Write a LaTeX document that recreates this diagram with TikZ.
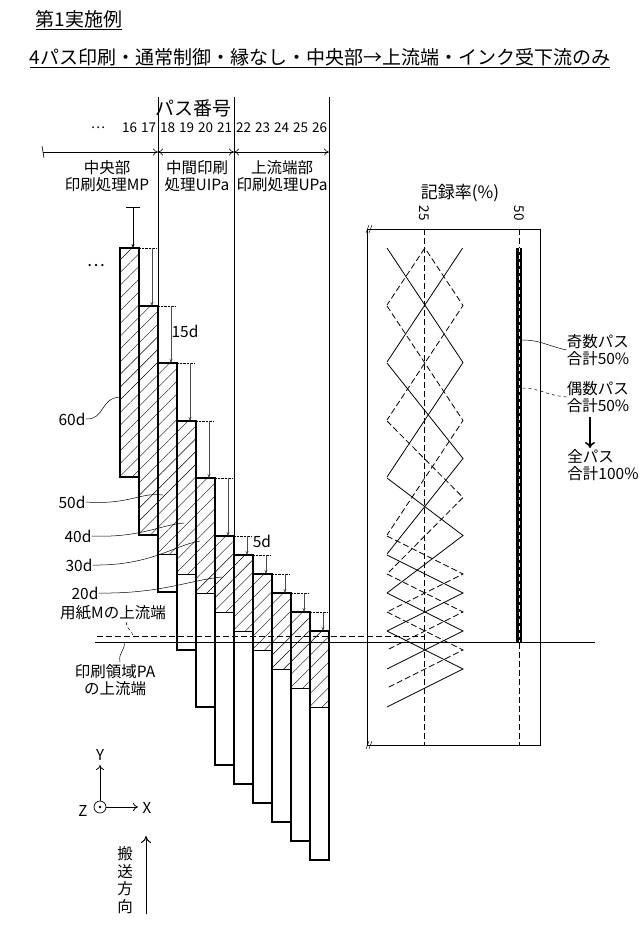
\documentclass[tikz,border=0pt]{standalone}
\usepackage{fontspec}
\setmainfont{Noto Sans CJK JP}
\usetikzlibrary{patterns.meta,arrows.meta}
\begin{document}
\begin{tikzpicture}[x=1pt,y=-1pt,
  txt/.style={inner sep=0pt,align=center,font=\fontsize{15.5}{17.5}\selectfont},
  num/.style={inner sep=0pt,font=\fontsize{13.5}{14}\selectfont},
  passrect/.style={line width=1.4pt},
  hatch/.style={pattern={Lines[angle=45,distance=9pt,line width=0.4pt]}},
  steparrow/.style={line width=0.4pt,-{Stealth[length=4pt,width=3pt]}},
  leader/.style={line width=0.5pt},
  tent/.style={line width=0.8pt}]
\useasboundingbox (0,0) rectangle (640,940);
% titles
\node[inner sep=0pt,font=\fontsize{19}{21}\selectfont] (t1) at (79,20) {\underline{第1実施例}};
\node[inner sep=0pt,font=\fontsize{19}{21}\selectfont] (t2) at (320,58) {\underline{4パス印刷・通常制御・縁なし・中央部→上流端・インク受下流のみ}};
% header
\node[inner sep=0pt,font=\fontsize{19}{20}\selectfont] (ph) at (193,108) {パス番号};
\node[num] (dots) at (98,128) {…};
\foreach \k in {16,...,26}{
  \node[num] (n\k) at ({129.5+19*(\k-16)},128) {\k};
}
\foreach \xx/\yb in {158/363,234/536,329/631}{
  \draw[line width=0.6pt] (\xx,97) -- (\xx,\yb);
}
\coordinate (aL) at (43,152);
\coordinate (a1) at (158,152);
\coordinate (a2) at (234,152);
\coordinate (a3) at (329,152);
\draw[line width=0.6pt] (42,146) -- (44,158);
\draw[line width=0.6pt,-{To[length=5pt,width=7pt]}] (aL) -- (a1);
\draw[line width=0.6pt,{To[length=5pt,width=7pt]}-{To[length=5pt,width=7pt]}] (a1) -- (a2);
\draw[line width=0.6pt,{To[length=5pt,width=7pt]}-{To[length=5pt,width=7pt]}] (a2) -- (a3);
\node[txt] (mp) at (107,176) {中央部\\印刷処理MP};
\node[txt] (uipa) at (197,176) {中間印刷\\処理UIPa};
\node[txt] (upa) at (282,176) {上流端部\\印刷処理UPa};
\node[num,font=\fontsize{17}{17}\selectfont] (dd) at (96,266) {…};
% passes
\foreach \k/\t/\h in {16/248/229,17/306/229,18/363/191,19/421/153,20/478/115,21/536/76,22/555/76,23/574/76,24/593/76,25/612/76,26/631/76}{
  \pgfmathsetmacro\xl{120+19*(\k-16)}
  \pgfmathsetmacro\xr{\xl+19}
  \pgfmathsetmacro\yh{\t+\h}
  \pgfmathsetmacro\yb{\t+229}
  \path[hatch] (\xl,\t) rectangle (\xr,\yh);
  \draw[line width=0.5pt] (\xl,\yh) -- (\xr,\yh);
  \draw[passrect,fill=none] (\xl,\t) rectangle (\xr,\yb);
}
% first arrow
\draw[line width=0.5pt] (126,207) -- (140,207);
\draw[steparrow] (133,207) -- (133,248);
\foreach \k/\p/\t in {17/248/306,18/306/363,19/363/421,20/421/478,21/478/536,22/536/555,23/555/574,24/574/593,25/593/612,26/612/631}{
  \pgfmathsetmacro\xl{120+19*(\k-16)}
  \pgfmathsetmacro\ax{\xl+13}
  \draw[line width=0.4pt,densely dotted] (\xl,\p) -- (\ax+4,\p);
  \draw[steparrow,gray!60!black] (\ax,\p) -- (\ax,\t);
}
\node[txt] (l15) at (185,331) {15d};
\node[txt] (l5) at (262,541) {5d};
% left leaders
\node[txt] (d60) at (72,419) {60d};
\draw[leader] (d60.east) .. controls (105,420) and (100,398) .. (120,397);
\node[txt] (d50) at (72,502) {50d};
\draw[leader] (d50.east) .. controls (130,505) and (140,492) .. (163,495);
\node[txt] (d40) at (78,536) {40d};
\draw[leader] (d40.east) .. controls (140,538) and (160,525) .. (184,523);
\node[txt] (d30) at (79,565) {30d};
\draw[leader] (d30.east) .. controls (150,566) and (175,545) .. (200,541);
\node[txt] (d20) at (85,593) {20d};
\draw[leader] (d20.east) .. controls (160,594) and (190,580) .. (222,577);
\node[txt] (yoshi) at (113,613) {用紙Mの上流端};
\coordinate (ye) at (133,636);
\draw[leader,dashed] (127,622) .. controls (124,628) and (133,630) .. (ye);
\node[txt] (pa) at (115,680) {印刷領域PA\\の上流端};
\coordinate (pe) at (124,642);
\draw[leader] (120,662) .. controls (118,652) and (126,650) .. (pe);
% reference lines
\coordinate (hl) at (95,642);
\coordinate (hr) at (595,642);
\draw[line width=0.8pt] (hl) -- (hr);
\draw[line width=0.9pt,dashed,dash pattern=on 6pt off 3pt] (97,636) -- (424,636);
% right panel
\node[inner sep=0pt,font=\fontsize{17}{18}\selectfont] (rr) at (460,193) {記録率(\%)};
\node[num,rotate=-90] (p25) at (424,213) {25};
\node[num,rotate=-90] (p50) at (519,213) {50};
\draw[line width=0.7pt] (367,229) rectangle (540,745);
\foreach \yy in {229,745}{
  \draw[line width=0.5pt] (366,\yy+4) -- (369,\yy-4);
  \draw[line width=0.5pt] (369,\yy+4) -- (372,\yy-4);
}
\draw[line width=0.6pt,dashed,dash pattern=on 6pt off 3pt] (424,229) -- (424,745);
\draw[line width=0.6pt,dashed,dash pattern=on 6pt off 3pt] (519,229) -- (519,745);
\begin{scope}
\clip (380,248) rectangle (470,760);
\foreach \k/\t/\h in {12/18/229,13/76/229,14/133/229,15/191/229,16/248/229,17/306/229,18/363/191,19/421/153,20/478/115,21/536/76,22/555/76,23/574/76,24/593/76,25/612/76,26/631/76}{
  \pgfmathsetmacro\ym{\t+\h/2}
  \pgfmathsetmacro\yb{\t+\h}
  \pgfmathtruncatemacro\od{mod(\k,2)}
  \ifnum\od=1
    \draw[tent,dashed,dash pattern=on 6pt off 3pt] (387,\t) -- (463,\ym) -- (387,\yb);
  \else
    \draw[tent] (387,\t) -- (463,\ym) -- (387,\yb);
  \fi
}
\end{scope}
\fill (516,248) rectangle (522,642);
\draw[white,line width=0.6pt,dashed,dash pattern=on 4pt off 3pt] (519,248) -- (519,642);
\node[txt,align=left] (odd) at (598,350) {奇数パス\\合計50\%};
\draw[leader] (odd.west) .. controls (545,345) and (540,340) .. (522,340);
\node[txt,align=left] (even) at (598,397) {偶数パス\\合計50\%};
\draw[leader,dashed] (even.west) .. controls (545,395) and (540,388) .. (521,388);
\node[txt,align=left] (all) at (603,465) {全パス\\合計100\%};
\draw[line width=1.5pt,-{To[length=6pt,width=10pt]}] (590,417) -- (590,448);
% axes
\node[txt,font=\fontsize{15}{15}\selectfont] (Y) at (100,755) {Y};
\node[circle,draw,line width=0.7pt,minimum size=12pt,inner sep=0pt] (Z) at (100,807) {};
\fill (Z.center) circle (1.4pt);
\node[txt,font=\fontsize{15}{15}\selectfont] (Zl) at (83,811) {Z};
\node[txt,font=\fontsize{15}{15}\selectfont] (X) at (147,808) {X};
\draw[line width=0.8pt,-{To[length=5pt,width=8pt]}] (Z.north) -- (100,765);
\draw[line width=0.8pt,-{To[length=5pt,width=8pt]}] (Z.east) -- (138,807);
\node[txt,font=\fontsize{15.5}{17.5}\selectfont] (dir) at (125,880) {搬\\送\\方\\向};
\coordinate (db) at (146,914);
\coordinate (dt) at (146,836);
\draw[line width=1pt,-{To[length=7pt,width=10pt]}] (db) -- (dt);
\end{tikzpicture}
\end{document}
